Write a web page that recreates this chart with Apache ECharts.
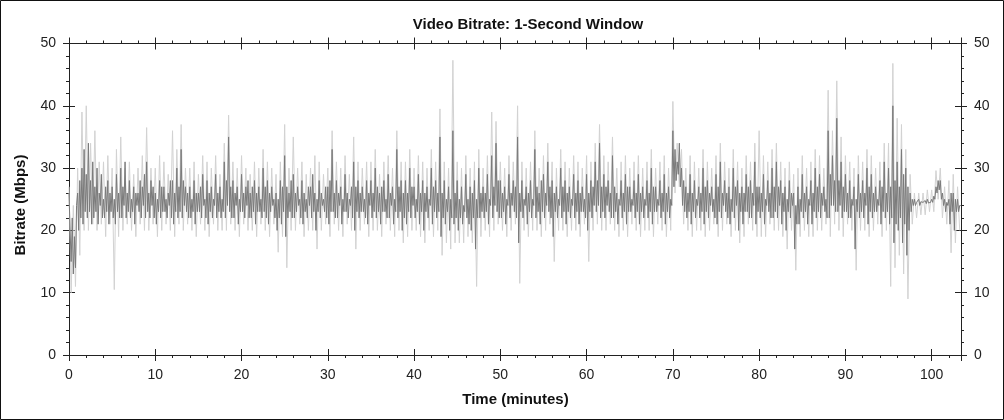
<!DOCTYPE html>
<html><head><meta charset="utf-8">
<script src="https://cdn.jsdelivr.net/npm/echarts@6/dist/echarts.min.js"></script>
<style>html,body{margin:0;padding:0;background:#fff}#c{width:1004px;height:420px}</style>
</head><body><div id="c"></div>
<script>
// Sampling steps (minutes)
const DARK_STEP = 0.125;
const LIGHT_STEP = 0.25;
const X_TICKS = [0,10,20,30,40,50,60,70,80,90,100];
const Y_TICKS = [0,10,20,30,40,50];
// Dark grey trace (Mbps), 8 samples per minute
const dark = [
26,20,15,22,13,19,14,24, 26,20,28,22,30,21,33,23, 29,22,34,23,28,21,31,22, 27,23,30,21,26,24,29,22,
25,22,27,23,28,21,26,23, 27,22,25,21,29,23,26,22, 30,22,27,24,31,22,26,23, 28,22,25,23,27,21,26,24,
26,23,28,22,27,24,29,22, 31,23,26,22,28,24,27,22, 26,21,25,23,28,22,27,23, 27,23,25,22,26,24,28,22,
28,21,26,23,30,22,27,23, 33,22,28,24,27,23,26,22, 27,22,25,23,28,21,26,23, 26,23,27,22,29,24,25,22,
28,21,26,23,27,22,25,24, 29,22,26,23,27,22,25,23, 31,22,28,24,35,23,27,22, 28,22,26,24,27,21,25,23,
29,23,26,22,27,24,28,22, 26,22,27,23,28,21,26,23, 27,23,25,22,30,23,27,22, 28,21,26,23,27,24,25,22,
26,20,25,22,28,21,27,23, 32,19,27,22,26,23,28,22, 29,22,26,23,27,24,25,22, 28,21,26,23,25,22,27,24,
27,22,29,23,26,20,25,23, 28,22,26,24,25,23,27,22, 27,21,28,23,33,23,26,22, 28,22,26,24,27,21,25,23,
29,23,26,22,25,24,27,22, 31,20,27,23,28,22,26,23, 27,23,25,22,28,21,26,24, 28,22,26,23,30,22,27,23,
26,21,27,23,28,23,25,22, 29,22,26,24,27,21,25,23, 33,22,27,23,28,20,26,22, 28,21,26,23,30,22,27,24,
27,22,25,23,29,21,26,23, 28,20,26,23,27,22,25,24, 30,21,27,23,28,22,26,23, 35,19,26,22,28,21,25,23,
27,20,25,22,36,21,26,22, 28,20,25,22,27,21,24,23, 29,22,25,21,27,20,26,22, 28,17,25,22,30,22,26,23,
27,22,26,23,29,21,25,24, 32,22,27,24,34,23,28,22, 28,22,26,23,27,21,25,24, 29,22,26,24,28,23,27,22,
35,18,26,23,28,22,25,24, 27,21,26,23,28,22,25,24, 33,22,27,23,26,21,28,23, 29,22,26,24,31,23,27,22,
28,19,26,23,27,22,25,24, 30,22,27,23,28,21,26,23, 27,22,25,24,29,22,26,23, 28,21,26,23,27,23,25,22,
29,20,26,23,28,22,27,24, 31,23,28,24,34,22,27,23, 29,22,27,24,28,23,26,22, 32,22,27,23,26,21,25,24,
28,22,26,23,29,21,27,23, 27,23,25,24,28,22,26,23, 29,21,26,23,27,22,25,24, 28,22,26,23,30,21,27,23,
27,23,25,24,28,22,26,23, 29,21,26,23,27,22,25,24, 36,27,33,28,31,29,34,27, 30,24,28,23,27,22,26,23,
29,21,26,23,28,22,25,24, 27,22,26,23,30,21,27,23, 28,22,26,24,27,23,25,22, 29,21,27,23,31,22,26,24,
28,23,26,22,27,21,25,23, 30,22,27,24,28,20,26,23, 27,21,26,23,29,23,27,22, 28,22,26,24,31,21,27,23,
27,22,26,23,29,21,25,24, 28,23,26,22,30,22,27,23, 31,22,27,24,28,21,26,23, 27,20,25,23,28,22,26,24,
26,17,24,21,27,21,25,23, 29,22,26,23,27,21,25,24, 28,21,26,23,30,22,27,23, 29,22,26,24,27,23,25,22,
36,22,29,24,32,24,28,23, 38,23,28,24,31,22,27,23, 29,23,26,22,28,22,25,24, 27,17,25,23,29,22,26,23,
28,22,26,24,30,21,27,23, 29,22,26,23,27,23,25,24, 28,21,27,23,31,22,26,23, 30,21,27,22,40,18,28,21,
31,20,27,22,33,18,29,21, 30,16,27,20,26,23,25,24, 25,24,24.5,24.2,25,24,24.6,24.3, 24.5,24.2,24.8,24.3,25,24.4,24.7,24.5,
25,24.5,25.5,25,27,26,28,26.5, 28,25,26,24,25,23,24.5,24, 25,21,26,23,26,20,25,23, 25,23,24,24
];
// Light grey envelope trace (Mbps), 4 samples per minute
const light = [
27,10,24,11, 30,16,39,20, 40,20,34,21, 36,20,31,21, 31,19,32,21,
30,10.5,33,19, 35,20,30,21, 31,20,29,19, 30,21,32,20, 36.5,20,30,21,
30,19,32,20, 31,21,29,20, 36,19,33,21, 37,20,30,21, 30,20,31,19,
29,21,32,20, 31,19,30,21, 32,20,29,20, 34,20,38.5,21, 31,20,30,19,
32,21,30,20, 29,20,31,19, 30,21,33,20, 31,19,30,21, 29,16.5,31,19,
37,14,30,20, 35,20,30,21, 31,19,29,20, 30,20,32,17, 31,20,29,21,
30,19,36,21, 31,20,30,19, 32,21,29,20, 35,17,31,20, 30,21,31,19,
31,20,33,20, 29,19,31,21, 32,20,30,19, 36,20,31,18, 31,19,33,20,
30,20,32,19, 31,18,30,20, 33,19,31,20, 39.5,16,31,18, 30,17,47.3,18,
31,18,30,18, 32,19,30,18, 31,11,33,19, 30,20,32,19, 39,20,37.5,21,
31,20,30,19, 32,20,31,21, 40,11.5,31,20, 30,19,31,20, 36,20,30,19,
32,20,34,21, 31,15,30,20, 33,20,31,19, 30,20,32,20, 31,19,30,21,
32,15,31,20, 34,21,37,20, 32,20,31,21, 35,20,30,19, 31,20,32,19,
30,21,31,20, 32,19,30,20, 31,20,33,19, 30,21,31,20, 32,19,30,20,
40.7,26,34,27, 33,21,30,20, 32,19,31,20, 30,20,33,19, 31,20,30,21,
32,19,34,20, 31,21,30,19, 33,20,31,18, 30,19,32,21, 31,20,34,19,
36,19,32,19, 31,21,33,20, 34,20,31,19, 30,17,31,20, 29,13.6,30,19,
32,20,30,19, 31,19,33,20, 32,20,30,21, 42.5,19,36,21, 44,20,35,19,
32,21,31,20, 30,13.6,32,20, 31,20,33,19, 32,20,30,21, 31,19,34,20,
34,11,46.8,14, 38,16,37,13, 33,9,29,21, 26,22,26,22.5, 26,22.5,26.5,23,
26.5,23,29.6,25, 30,22,27,21, 28,16.4,29,18, 27,20
];

const toXY = (arr, step) => arr.map((v, i) => [i * step, v]);
const FONT = 'Liberation Sans, Arial, sans-serif';
const AX = '#222';
const chart = echarts.init(document.getElementById('c'));

function xAx(pos, inside, labels){
  return {type:'value', position:pos, min:0, max:103.4, interval:10,
    axisLine:{show:true, onZero:false, lineStyle:{color:AX, width:1}},
    axisTick:{show:true, inside:inside, length:6, lineStyle:{color:AX}},
    minorTick:{show:!inside, splitNumber:5, length:3, lineStyle:{color:AX}},
    splitLine:{show:false},
    axisLabel:{show:labels, margin:13, color:'#222', fontSize:14, fontFamily:FONT,
      customValues: X_TICKS},
  };
}
function yAx(pos, inside, labels){
  return {type:'value', position:pos, min:0, max:50, interval:10,
    axisLine:{show:true, onZero:false, lineStyle:{color:AX, width:1}},
    axisTick:{show:true, inside:inside, length:6, lineStyle:{color:AX}},
    minorTick:{show:!inside, splitNumber:5, length:3, lineStyle:{color:AX}},
    splitLine:{show:false},
    axisLabel:{show:labels, margin:13, color:'#222', fontSize:14, fontFamily:FONT,
      customValues: Y_TICKS},
  };
}

const xs = [xAx('bottom', false, true), xAx('bottom', true, false), xAx('top', false, false), xAx('top', true, false)];
const ys = [yAx('left', false, true), yAx('left', true, false), yAx('right', false, true), yAx('right', true, false)];

chart.setOption({
  animation:false,
  backgroundColor:'#fff',
  title:{text:'Video Bitrate: 1-Second Window', left:523, textAlign:'center', top:12,
    textStyle:{fontSize:15, fontWeight:'bold', color:'#111', fontFamily:FONT}},
  grid:{left:69, right:43, top:43.5, bottom:65, containLabel:false},
  xAxis: xs,
  yAxis: ys,
  graphic:[
    {type:'rect', shape:{x:0.5,y:0.5,width:1003,height:419}, style:{fill:null, stroke:'#111', lineWidth:1}, silent:true},
    {type:'text', x:515.5, y:399.5, style:{text:'Time (minutes)', font:'bold 15px '+FONT, fill:'#111', align:'center', verticalAlign:'middle'}},
    {type:'text', x:21, y:205, rotation:Math.PI/2, style:{text:'Bitrate (Mbps)', font:'bold 15px '+FONT, fill:'#111', align:'center', verticalAlign:'middle'}}
  ],
  series:[
    {type:'line', data:toXY(light, LIGHT_STEP), xAxisIndex:0, yAxisIndex:0, showSymbol:false, symbol:'none',
      lineStyle:{color:'#d2d2d2', width:1}, z:2, silent:true},
    {type:'line', data:toXY(dark, DARK_STEP), xAxisIndex:0, yAxisIndex:0, showSymbol:false, symbol:'none',
      lineStyle:{color:'#7a7a7a', width:1}, z:3, silent:true}
  ]
});
</script></body></html>
